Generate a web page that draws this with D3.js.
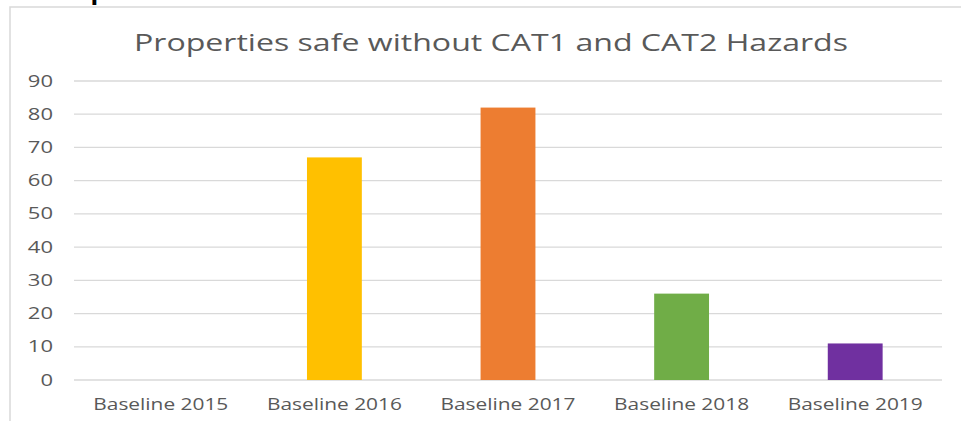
<!DOCTYPE html>
<html><head><meta charset="utf-8">
<script src="https://cdn.jsdelivr.net/npm/d3@7"></script>
<style>body{margin:0;background:#fff;} svg{display:block;}</style>
</head><body>
<svg id="c" width="961" height="421"></svg>
<script>
const categories = ["Baseline 2015","Baseline 2016","Baseline 2017","Baseline 2018","Baseline 2019"];
const values = [0, 67, 82, 26, 11];
const colors = ["#4472C4","#FFC000","#ED7D31","#70AD47","#7030A0"];
const yTicks = [0,10,20,30,40,50,60,70,80,90];
const title = "Properties safe without CAT1 and CAT2 Hazards";

const svg = d3.select("#c");

// cut-off heading above chart
svg.append("text").attr("x",44).attr("y",0)
  .attr("font-family","'Liberation Sans', Arial, sans-serif").attr("font-weight","bold")
  .attr("font-size",22).attr("fill","#000")
  .attr("textLength",638).attr("lengthAdjust","spacingAndGlyphs")
  .text(title);

// chart frame
svg.append("rect").attr("x",10).attr("y",7).attr("width",970).attr("height",430)
  .attr("fill","#fff").attr("stroke","#d9d9d9").attr("stroke-width",1.5);

const m = {left:74, right:942, top:81, bottom:380};
const x = d3.scaleBand().domain(categories).range([m.left,m.right]).paddingInner(0.684).paddingOuter(0.342);
const y = d3.scaleLinear().domain([0,90]).range([m.bottom,m.top]);

// gridlines
svg.append("g").selectAll("line").data(yTicks).join("line")
  .attr("x1",m.left).attr("x2",m.right)
  .attr("y1",d=>y(d)).attr("y2",d=>y(d))
  .attr("stroke","#d9d9d9").attr("stroke-width",1.3);

// y tick labels
svg.append("g").selectAll("text").data(yTicks).join("text")
  .attr("x",53).attr("y",d=>y(d)).attr("dy","0.36em")
  .attr("text-anchor","end").attr("font-family","'Open Sans', sans-serif")
  .attr("font-size",15.5).attr("fill","#595959")
  .attr("textLength",d=>String(d).length*12.6).attr("lengthAdjust","spacingAndGlyphs")
  .text(d=>d);

// bars
svg.append("g").selectAll("rect").data(values).join("rect")
  .attr("x",(d,i)=>x(categories[i])).attr("width",x.bandwidth())
  .attr("y",d=>y(d)).attr("height",d=>y(0)-y(d))
  .attr("fill",(d,i)=>colors[i]);

// x labels
const xAxisG = svg.append("g").attr("transform",`translate(0,${m.bottom})`)
  .call(d3.axisBottom(x).tickSize(0).tickPadding(19));
xAxisG.select(".domain").remove();
xAxisG.selectAll("text").attr("font-family","'Open Sans', sans-serif")
  .attr("font-size",16).attr("fill","#595959")
  .attr("textLength",135).attr("lengthAdjust","spacingAndGlyphs");

// title
svg.append("text").attr("x",491).attr("y",51).attr("text-anchor","middle")
  .attr("font-family","'Open Sans', sans-serif").attr("font-size",23).attr("fill","#595959")
  .attr("textLength",714).attr("lengthAdjust","spacingAndGlyphs")
  .text(title);
</script>
</body></html>
